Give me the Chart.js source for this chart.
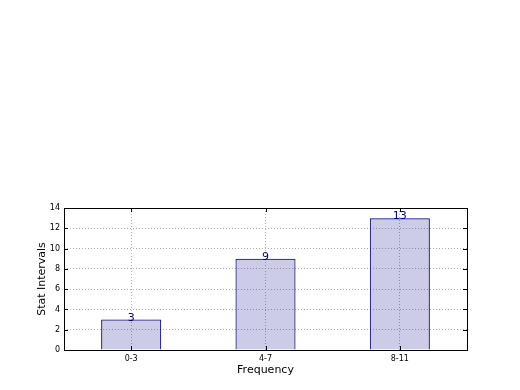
<!DOCTYPE html>
<html lang="en">
<head>
<meta charset="UTF-8" />
<title>Stat Intervals</title>
<script src="https://cdn.jsdelivr.net/npm/chart.js"></script>
<style>
    body { margin: 0; background: #fff; }
    canvas { display: block; }
</style>
</head>
<body>
<canvas id="chart" width="520" height="390"></canvas>
<script>
    const categories = ['0-3', '4-7', '8-11'];
    const counts = [3, 9, 13];
    const yTicks = [0, 2, 4, 6, 8, 10, 12, 14];

    const font = 'DejaVu Sans';

    // frame + inward ticks on all four sides, like the original
    const framePlugin = {
        id: 'frame',
        afterDraw(chart) {
            const { ctx, chartArea: a, scales } = chart;
            ctx.save();
            ctx.strokeStyle = '#000';
            ctx.lineWidth = 1;
            ctx.strokeRect(a.left + 0.5, a.top + 0.5, a.right - a.left, a.bottom - a.top);
            ctx.beginPath();
            yTicks.forEach(v => {
                const y = Math.round(scales.y.getPixelForValue(v)) + 0.5;
                ctx.moveTo(a.left, y); ctx.lineTo(a.left + 4, y);
                ctx.moveTo(a.right, y); ctx.lineTo(a.right - 4, y);
            });
            categories.forEach((c, i) => {
                const x = Math.round(scales.x.getPixelForValue(i)) + 0.5;
                ctx.moveTo(x, a.bottom); ctx.lineTo(x, a.bottom - 4);
                ctx.moveTo(x, a.top); ctx.lineTo(x, a.top + 4);
            });
            ctx.stroke();
            ctx.restore();
        }
    };

    const valueLabels = {
        id: 'valueLabels',
        afterDatasetsDraw(chart) {
            const { ctx } = chart;
            const meta = chart.getDatasetMeta(0);
            ctx.save();
            ctx.fillStyle = '#00008b';
            ctx.font = '11px ' + font;
            ctx.textAlign = 'center';
            ctx.textBaseline = 'alphabetic';
            meta.data.forEach((bar, i) => {
                ctx.fillText(String(counts[i]), bar.x, bar.y + 1);
            });
            ctx.restore();
        }
    };

    new Chart(document.getElementById('chart'), {
        type: 'bar',
        data: {
            labels: categories,
            datasets: [{
                data: counts,
                backgroundColor: 'rgba(0, 0, 128, 0.2)',
                borderColor: '#000080',
                borderWidth: 1,
                barPercentage: 0.447,
                categoryPercentage: 1
            }]
        },
        options: {
            responsive: false,
            animation: false,
            events: [],
            layout: { padding: { top: 208, right: 53, left: 36, bottom: 13 } },
            plugins: { legend: { display: false }, tooltip: { enabled: false } },
            scales: {
                x: {
                    offset: true,
                    grid: { offset: false, color: '#b0b0b0', drawTicks: false },
                    border: { display: false, dash: [1, 2] },
                    ticks: { color: '#000', font: { family: font, size: 8 }, padding: 4 },
                    title: { display: true, text: 'Frequency', color: '#000', font: { family: font, size: 11 }, padding: { top: 0, bottom: 0 } },
                    afterFit(s) { s.height = 27; }
                },
                y: {
                    min: 0,
                    max: 14,
                    afterBuildTicks(s) { s.ticks = yTicks.map(v => ({ value: v })); },
                    grid: { color: '#b0b0b0', drawTicks: false },
                    border: { display: false, dash: [1, 2] },
                    ticks: { color: '#000', font: { family: font, size: 8 }, padding: 4 },
                    title: { display: true, text: 'Stat Intervals', color: '#000', font: { family: font, size: 11 }, padding: { top: 0, bottom: 0 } },
                    afterFit(s) { s.width = 28; }
                }
            }
        },
        plugins: [framePlugin, valueLabels]
    });
</script>
</body>
</html>
